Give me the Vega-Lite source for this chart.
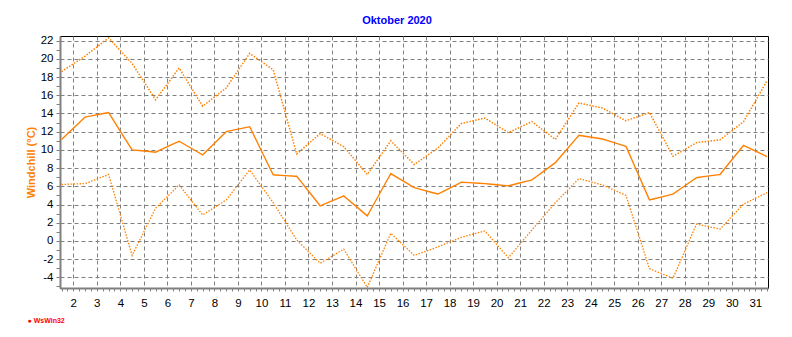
{
  "$schema": "https://vega.github.io/schema/vega-lite/v6.json",
  "width": 708,
  "height": 252,
  "autosize": {"type": "none"},
  "padding": {"left": 60, "top": 36, "right": 24, "bottom": 49},
  "background": "white",
  "config": {"view": {"stroke": "black", "strokeWidth": 1}, "font": "Liberation Sans"},
  "title": {"text": "Oktober 2020", "color": "#0000FF", "fontSize": 11, "fontWeight": "bold", "font": "Liberation Sans", "anchor": "middle", "frame": "group", "dx": -17, "baseline": "alphabetic", "offset": 0},
  "data": {"values": [
    {"t": 1.5, "max": 18.6, "mean": 11.15, "min": 6.2},
    {"t": 2.5, "max": 20.3, "mean": 13.6, "min": 6.3},
    {"t": 3.5, "max": 22.3, "mean": 14.1, "min": 7.3},
    {"t": 4.5, "max": 19.5, "mean": 10.0, "min": -1.6},
    {"t": 5.5, "max": 15.5, "mean": 9.75, "min": 3.6},
    {"t": 6.5, "max": 19.0, "mean": 10.95, "min": 6.15},
    {"t": 7.5, "max": 14.8, "mean": 9.45, "min": 2.85},
    {"t": 8.5, "max": 16.8, "mean": 12.0, "min": 4.5},
    {"t": 9.5, "max": 20.6, "mean": 12.55, "min": 7.8},
    {"t": 10.5, "max": 18.8, "mean": 7.25, "min": 4.2},
    {"t": 11.5, "max": 9.55, "mean": 7.1, "min": 0.1},
    {"t": 12.5, "max": 11.8, "mean": 3.85, "min": -2.45},
    {"t": 13.5, "max": 10.35, "mean": 4.95, "min": -0.9},
    {"t": 14.5, "max": 7.3, "mean": 2.75, "min": -5.1},
    {"t": 15.5, "max": 11.0, "mean": 7.4, "min": 0.85},
    {"t": 16.5, "max": 8.4, "mean": 5.85, "min": -1.6},
    {"t": 17.5, "max": 10.2, "mean": 5.15, "min": -0.65},
    {"t": 18.5, "max": 12.9, "mean": 6.45, "min": 0.4},
    {"t": 19.5, "max": 13.5, "mean": 6.3, "min": 1.1},
    {"t": 20.5, "max": 11.9, "mean": 6.05, "min": -1.85},
    {"t": 21.5, "max": 13.1, "mean": 6.7, "min": 1.2},
    {"t": 22.5, "max": 11.15, "mean": 8.6, "min": 4.2},
    {"t": 23.5, "max": 15.15, "mean": 11.6, "min": 6.85},
    {"t": 24.5, "max": 14.6, "mean": 11.2, "min": 6.15},
    {"t": 25.5, "max": 13.2, "mean": 10.4, "min": 5.0},
    {"t": 26.5, "max": 14.1, "mean": 4.5, "min": -3.05},
    {"t": 27.5, "max": 9.3, "mean": 5.15, "min": -4.1},
    {"t": 28.5, "max": 10.8, "mean": 6.95, "min": 1.85},
    {"t": 29.5, "max": 11.1, "mean": 7.3, "min": 1.3},
    {"t": 30.5, "max": 13.1, "mean": 10.5, "min": 4.05},
    {"t": 31.5, "max": 17.6, "mean": 9.25, "min": 5.3}
  ]},
  "transform": [{"fold": ["max", "mean", "min"], "as": ["reihe", "wert"]}],
  "mark": {"type": "line", "color": "#FF8000"},
  "encoding": {
    "x": {
      "field": "t", "type": "quantitative",
      "scale": {"domain": [1.434, 31.54], "nice": false, "zero": false},
      "axis": {
        "values": [1.5,1.75,2,2.25,2.5,2.75,3,3.25,3.5,3.75,4,4.25,4.5,4.75,5,5.25,5.5,5.75,6,6.25,6.5,6.75,7,7.25,7.5,7.75,8,8.25,8.5,8.75,9,9.25,9.5,9.75,10,10.25,10.5,10.75,11,11.25,11.5,11.75,12,12.25,12.5,12.75,13,13.25,13.5,13.75,14,14.25,14.5,14.75,15,15.25,15.5,15.75,16,16.25,16.5,16.75,17,17.25,17.5,17.75,18,18.25,18.5,18.75,19,19.25,19.5,19.75,20,20.25,20.5,20.75,21,21.25,21.5,21.75,22,22.25,22.5,22.75,23,23.25,23.5,23.75,24,24.25,24.5,24.75,25,25.25,25.5,25.75,26,26.25,26.5,26.75,27,27.25,27.5,27.75,28,28.25,28.5,28.75,29,29.25,29.5,29.75,30,30.25,30.5,30.75,31,31.25,31.5],
        "grid": true,
        "gridColor": "#808080",
        "gridDash": [4, 3],
        "gridWidth": 1,
        "gridOpacity": {"condition": {"test": "datum.value % 1 != 0", "value": 0}, "value": 1},
        "labelExpr": "datum.value % 1 == 0 ? '' + datum.value : ''",
        "labelOverlap": false,
        "labelFlush": false,
        "labelFont": "Liberation Sans",
        "labelFontSize": 11.5,
        "labelColor": "black",
        "labelPadding": 6,
        "tickColor": "#808080",
        "tickSize": 3,
        "domainColor": "#808080",
        "domainWidth": 2,
        "title": "● WsWin32",
        "titleColor": "#FF0000",
        "titleFont": "Liberation Sans",
        "titleFontSize": 7,
        "titleFontWeight": "bold",
        "titleX": -33,
        "titleY": 32,
        "titleAlign": "left",
        "titleBaseline": "middle",
        "titleAngle": 0
      }
    },
    "y": {
      "field": "wert", "type": "quantitative",
      "scale": {"domain": [-5.17, 22.51], "nice": false, "zero": false},
      "axis": {
        "values": [-5,-4,-3,-2,-1,0,1,2,3,4,5,6,7,8,9,10,11,12,13,14,15,16,17,18,19,20,21,22],
        "grid": true,
        "gridColor": "#808080",
        "gridDash": [4, 3],
        "gridWidth": 1,
        "gridOpacity": {"condition": {"test": "datum.value % 2 != 0", "value": 0}, "value": 1},
        "labelExpr": "datum.value % 2 == 0 ? '' + datum.value : ''",
        "labelOverlap": false,
        "labelFlush": false,
        "labelFont": "Liberation Sans",
        "labelFontSize": 11.5,
        "labelColor": "black",
        "labelPadding": 3,
        "tickColor": "#808080",
        "tickSize": 4,
        "domainColor": "#808080",
        "domainWidth": 2,
        "title": "Windchill  (°C)",
        "titleColor": "#FF8000",
        "titleFont": "Liberation Sans",
        "titleFontSize": 11,
        "titleFontWeight": "bold",
        "titleX": -29,
        "titleY": 126,
        "titleAngle": -90,
        "titleAlign": "center",
        "titleBaseline": "middle"
      }
    },
    "detail": {"field": "reihe", "type": "nominal"},
    "strokeDash": {
      "field": "reihe", "type": "nominal",
      "scale": {"domain": ["max", "mean", "min"], "range": [[1.5, 1.5], [10, 0], [1.5, 1.5]]},
      "legend": null
    },
    "strokeWidth": {
      "field": "reihe", "type": "nominal",
      "scale": {"domain": ["max", "mean", "min"], "range": [1.5, 1.3, 1.5]},
      "legend": null
    }
  }
}
